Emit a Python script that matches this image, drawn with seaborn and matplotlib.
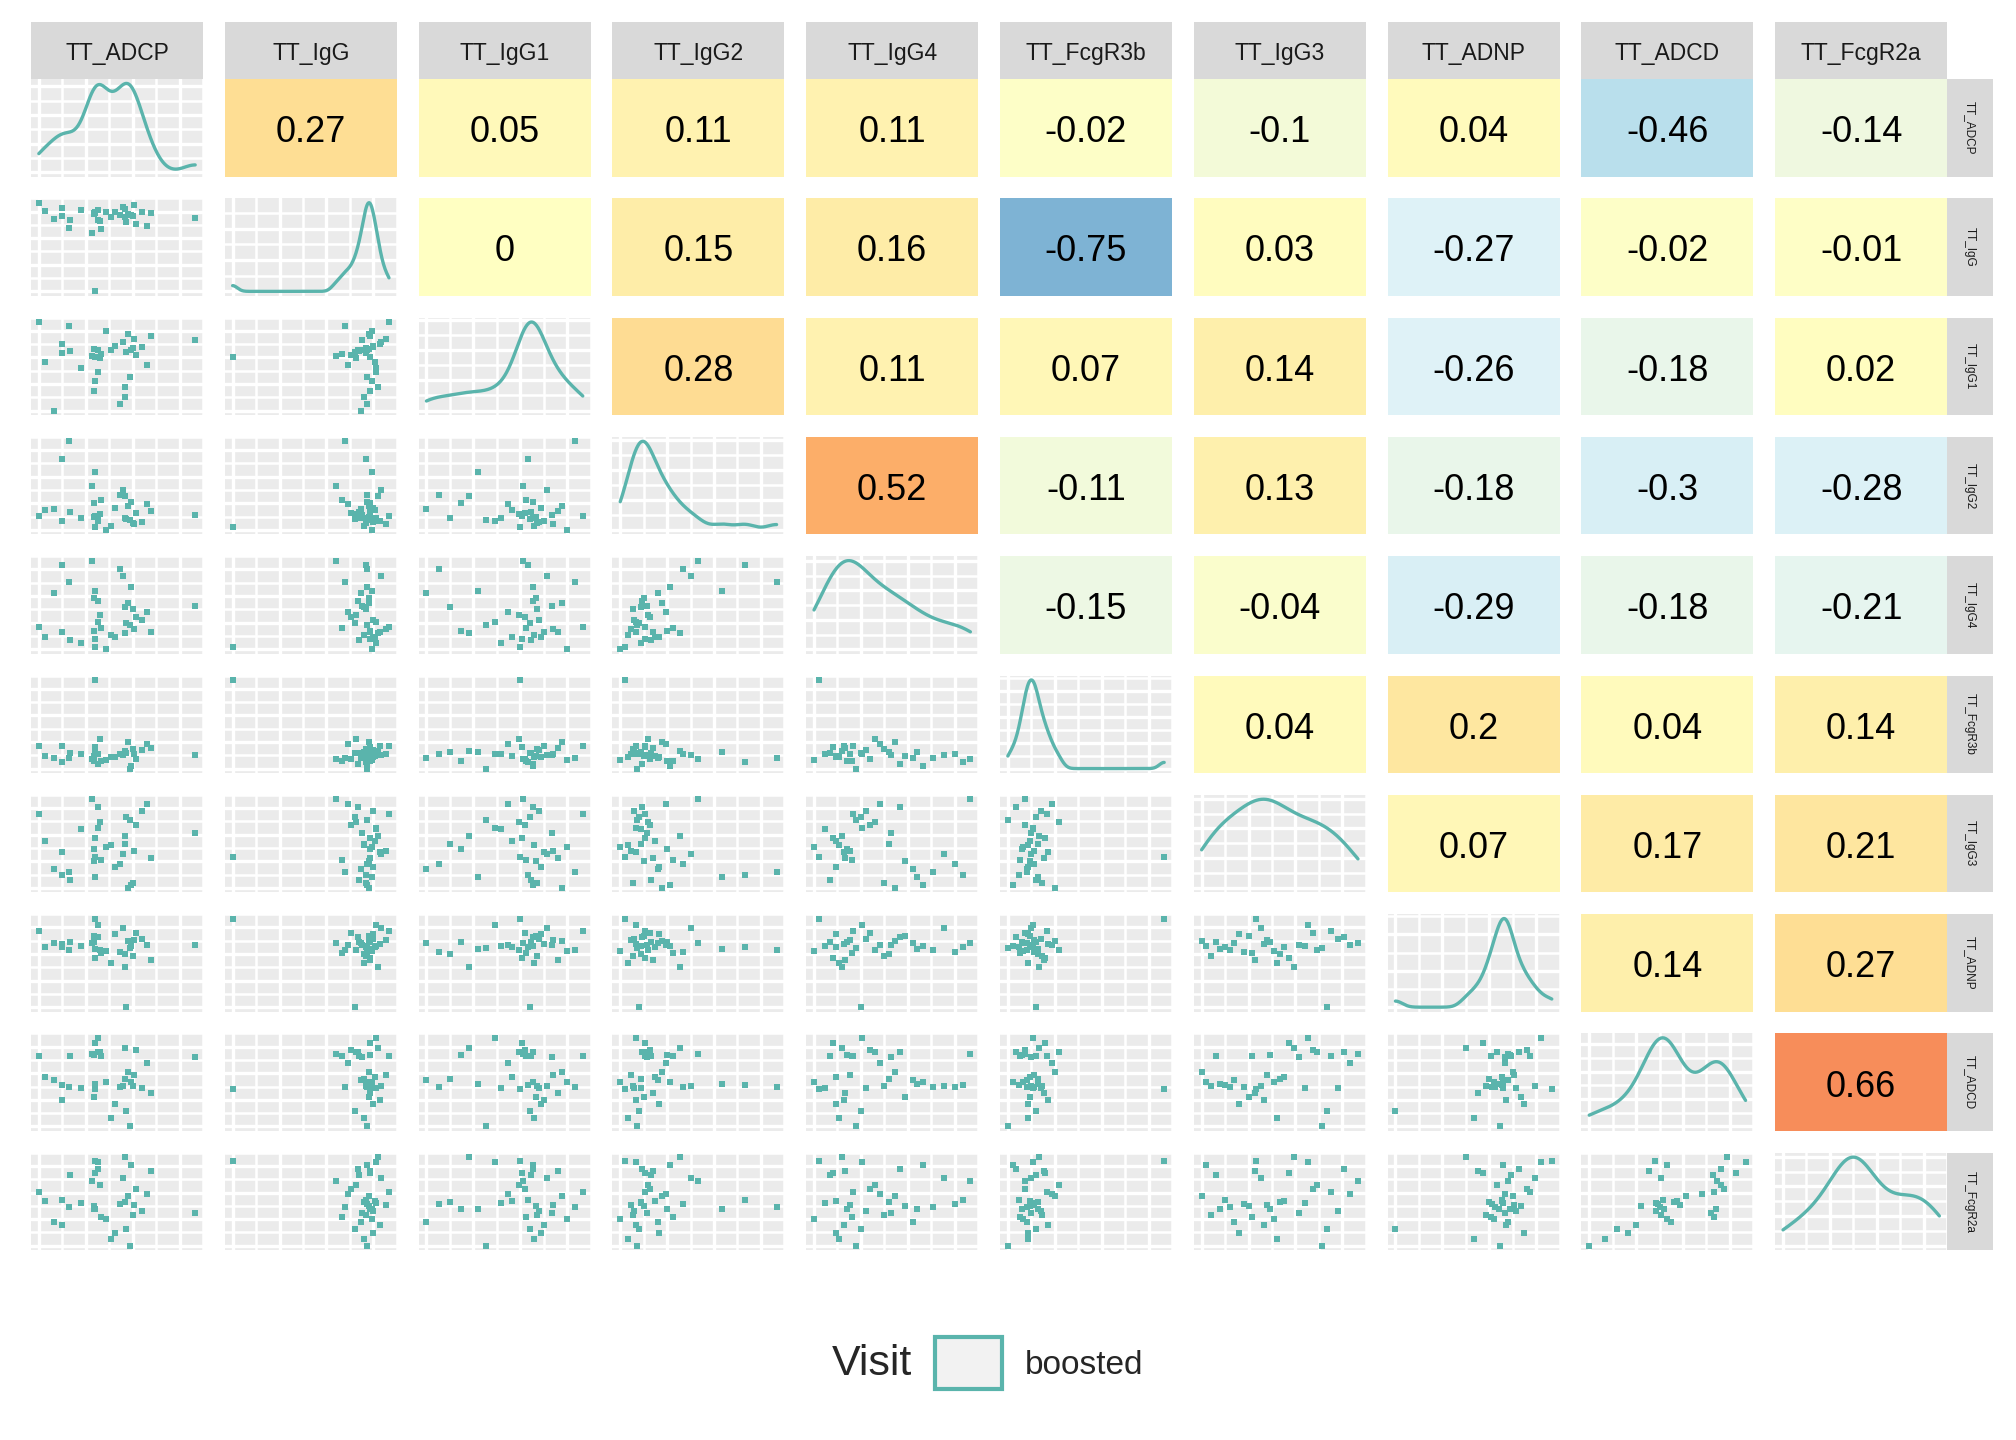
import numpy as np
import pandas as pd
import matplotlib
matplotlib.use("Agg")
import matplotlib.pyplot as plt
from matplotlib.colors import LinearSegmentedColormap, Normalize
from matplotlib.patches import Patch
from matplotlib.ticker import MaxNLocator, AutoMinorLocator
import seaborn as sns

variables = ["TT_ADCP", "TT_IgG", "TT_IgG1", "TT_IgG2", "TT_IgG4",
             "TT_FcgR3b", "TT_IgG3", "TT_ADNP", "TT_ADCD", "TT_FcgR2a"]

# sample values (scaled 0-1)
TT_ADCP = [0.36, 1.00, 0.19, 0.56, 0.35, 0.60, 0.04, 0.38, 0.52, 0.15, 0.62, 0.36,
           0.46, 0.57, 0.27, 0.40, 0.66, 0.10, 0.36, 0.54, 0.58, 0.20, 0.43, 0.69,
           0.35, 0.55, 0.15, 0.61, 0.39, 0.49, 0.55, 0.34, 0.72, 0.38, 0.59, 0.00]
TT_IgG = [0.00, 0.83, 0.72, 0.78, 0.88, 0.85, 0.91, 0.80, 0.86, 0.94, 0.76, 0.89,
          0.84, 0.87, 0.92, 0.70, 0.90, 0.82, 0.88, 0.95, 0.86, 0.81, 0.89, 0.74,
          0.87, 0.93, 0.85, 0.98, 0.79, 0.90, 0.84, 0.66, 0.88, 0.92, 0.86, 1.00]
TT_IgG1 = [0.60, 0.80, 0.95, 0.66, 0.22, 0.71, 0.55, 0.68, 0.08, 0.75, 0.63, 0.33,
           0.69, 0.87, 0.48, 0.64, 0.72, 0.00, 0.61, 0.77, 0.38, 0.67, 0.90, 0.52,
           0.70, 0.27, 0.65, 0.81, 0.59, 0.73, 0.15, 0.62, 0.84, 0.44, 0.68, 1.00]
TT_IgG2 = [0.03, 0.17, 1.00, 0.12, 0.30, 0.08, 0.22, 0.14, 0.40, 0.10, 0.19, 0.65,
           0.05, 0.27, 0.13, 0.34, 0.09, 0.24, 0.16, 0.45, 0.11, 0.20, 0.00, 0.29,
           0.15, 0.38, 0.80, 0.07, 0.18, 0.25, 0.13, 0.50, 0.21, 0.10, 0.32, 0.16]
TT_IgG4 = [0.03, 0.49, 0.76, 0.30, 0.21, 0.45, 0.14, 0.55, 0.90, 0.19, 0.36, 0.66,
           0.16, 0.52, 0.07, 0.24, 0.33, 0.63, 0.12, 0.83, 0.27, 0.10, 0.00, 0.42,
           0.58, 0.18, 0.95, 0.23, 0.39, 0.14, 0.48, 1.00, 0.20, 0.31, 0.70, 0.25]
TT_FcgR3b = [1.00, 0.15, 0.12, 0.18, 0.09, 0.22, 0.14, 0.05, 0.17, 0.26, 0.11, 0.19,
             0.13, 0.30, 0.16, 0.08, 0.21, 0.12, 0.24, 0.15, 0.00, 0.18, 0.10, 0.28,
             0.14, 0.20, 0.07, 0.17, 0.33, 0.13, 0.19, 0.11, 0.23, 0.16, 0.03, 0.25]
TT_IgG3 = [0.35, 0.62, 0.18, 0.80, 0.44, 0.06, 0.53, 0.91, 0.27, 0.40, 0.71, 0.12,
           0.48, 0.00, 0.66, 0.32, 0.87, 0.21, 0.56, 0.38, 0.77, 0.09, 0.46, 0.95,
           0.30, 0.59, 0.15, 0.42, 0.74, 0.24, 0.50, 1.00, 0.34, 0.68, 0.03, 0.83]
TT_ADNP = [1.00, 0.70, 0.64, 0.00, 0.73, 0.58, 0.68, 0.79, 0.62, 0.71, 0.84, 0.66,
           0.50, 0.75, 0.69, 0.61, 0.77, 0.72, 0.56, 0.89, 0.67, 0.74, 0.63, 0.70,
           0.80, 0.45, 0.68, 0.76, 0.65, 0.82, 0.60, 0.72, 0.53, 0.93, 0.69, 0.86]
TT_ADCD = [0.42, 0.78, 0.45, 0.18, 0.81, 0.46, 0.56, 0.84, 0.44, 0.30, 0.86, 0.48,
           0.10, 0.62, 0.43, 0.80, 0.43, 0.52, 0.94, 0.46, 0.00, 0.79, 0.50, 0.72,
           0.33, 0.88, 0.47, 0.58, 0.84, 0.25, 0.54, 0.82, 0.38, 1.00, 0.50, 0.80]
TT_FcgR2a = [0.96, 0.37, 0.44, 0.19, 0.42, 0.35, 0.50, 0.87, 0.47, 0.23, 0.64, 0.41,
             0.08, 0.56, 0.48, 0.33, 0.39, 0.27, 0.82, 0.76, 0.00, 0.80, 0.30, 0.58,
             0.45, 1.00, 0.52, 0.46, 0.68, 0.14, 0.49, 0.73, 0.84, 0.95, 0.91, 0.61]

# correlations printed in the upper triangle, row by row
corr_upper = [
    [0.27, 0.05, 0.11, 0.11, -0.02, -0.1, 0.04, -0.46, -0.14],
    [0, 0.15, 0.16, -0.75, 0.03, -0.27, -0.02, -0.01],
    [0.28, 0.11, 0.07, 0.14, -0.26, -0.18, 0.02],
    [0.52, -0.11, 0.13, -0.18, -0.3, -0.28],
    [-0.15, -0.04, -0.29, -0.18, -0.21],
    [0.04, 0.2, 0.04, 0.14],
    [0.07, 0.17, 0.21],
    [0.14, 0.27],
    [0.66],
]

df = pd.DataFrame({
    "TT_ADCP": TT_ADCP, "TT_IgG": TT_IgG, "TT_IgG1": TT_IgG1, "TT_IgG2": TT_IgG2,
    "TT_IgG4": TT_IgG4, "TT_FcgR3b": TT_FcgR3b, "TT_IgG3": TT_IgG3,
    "TT_ADNP": TT_ADNP, "TT_ADCD": TT_ADCD, "TT_FcgR2a": TT_FcgR2a,
})

sns.set_theme(style="white")
plt.rcParams["font.family"] = ["Liberation Sans", "DejaVu Sans"]

TEAL = "#5AB4AC"
cmap = LinearSegmentedColormap.from_list(
    "rdylbu", ["#4575b4", "#74add1", "#abd9e9", "#e0f3f8", "#ffffbf",
               "#fee090", "#fdae61", "#f46d43", "#d73027"])
norm = Normalize(-1, 1)

W, H = 2016, 1440
x0, px, pw = 31, 193.8, 172
y0, py, ph = 79, 119.3, 97.5

fig = plt.figure(figsize=(W / 100, H / 100), dpi=100)


def rect(i, j):
    left = (x0 + j * px) / W
    top = (y0 + i * py) / H
    return [left, 1 - top - ph / H, pw / W, ph / H]


def clean(ax):
    ax.set_xlabel("")
    ax.set_ylabel("")
    ax.tick_params(which="both", length=0, labelbottom=False, labelleft=False)
    for s in ax.spines.values():
        s.set_visible(False)


def grey_grid(ax):
    ax.set_facecolor("#EBEBEB")
    ax.xaxis.set_major_locator(MaxNLocator(4))
    ax.xaxis.set_minor_locator(AutoMinorLocator(2))
    ax.yaxis.set_major_locator(MaxNLocator(4))
    ax.yaxis.set_minor_locator(AutoMinorLocator(2))
    ax.grid(which="major", color="white", lw=2.4)
    ax.grid(which="minor", color="white", lw=1.8)
    ax.set_axisbelow(True)
    clean(ax)


def lims(v):
    lo, hi = min(v), max(v)
    pad = 0.05 * (hi - lo)
    return lo - pad, hi + pad


def nrd0_factor(v):
    a = np.asarray(v, dtype=float)
    sd = a.std(ddof=1)
    iqr = np.subtract(*np.percentile(a, [75, 25]))
    bw = 0.9 * min(sd, iqr / 1.34) * len(a) ** -0.2
    return bw / sd


n = len(variables)
for i, rv in enumerate(variables):
    for j, cv in enumerate(variables):
        ax = fig.add_axes(rect(i, j))
        if i == j:
            sns.kdeplot(data=df, x=cv, ax=ax, color=TEAL, lw=2.4, cut=0,
                        bw_method=nrd0_factor(df[cv]))
            ymax = max(ax.lines[0].get_ydata())
            ax.set_ylim(-0.05 * ymax, 1.05 * ymax)
            ax.set_xlim(*lims(df[cv]))
            grey_grid(ax)
        elif i > j:
            sns.scatterplot(data=df, x=cv, y=rv, ax=ax, color=TEAL, marker="s",
                            s=14, linewidth=0)
            ax.set_xlim(*lims(df[cv]))
            ax.set_ylim(*lims(df[rv]))
            grey_grid(ax)
        else:
            v = corr_upper[i][j - i - 1]
            ax.set_facecolor(cmap(norm(v), alpha=0.93))
            ax.text(0.5, 0.45, f"{v:g}", transform=ax.transAxes, ha="center",
                    va="center", fontsize=26, color="black")
            ax.set_xticks([])
            ax.set_yticks([])
            clean(ax)

# strips on top
for j, cv in enumerate(variables):
    sax = fig.add_axes([(x0 + j * px) / W, 1 - y0 / H, pw / W, 57 / H])
    sax.set_facecolor("#D9D9D9")
    sax.set_xticks([])
    sax.set_yticks([])
    clean(sax)
    sax.text(0.5, 0.44, cv, transform=sax.transAxes, ha="center", va="center",
             fontsize=16.5, color="#1A1A1A")

# strips on the right
for i, rv in enumerate(variables):
    r = rect(i, n - 1)
    sax = fig.add_axes([r[0] + r[2], r[1], 46 / W, r[3]])
    sax.set_facecolor("#D9D9D9")
    sax.set_xticks([])
    sax.set_yticks([])
    clean(sax)
    sax.text(0.5, 0.5, rv, transform=sax.transAxes, ha="center", va="center",
             rotation=-90, fontsize=8.5, color="#1A1A1A")

# legend
fig.text(832 / W, 1 - 1364 / H, "Visit", ha="left", va="center", fontsize=31)
fig.legend(handles=[Patch(facecolor="#F2F2F2", edgecolor=TEAL, linewidth=3)],
           labels=["boosted"], loc="center left",
           bbox_to_anchor=(935 / W, 1 - 1363 / H), frameon=False, fontsize=24,
           handlelength=2.0, handleheight=2.0, handletextpad=0.7,
           borderpad=0, borderaxespad=0)

fig.savefig("out.png", dpi=100, facecolor="white")
